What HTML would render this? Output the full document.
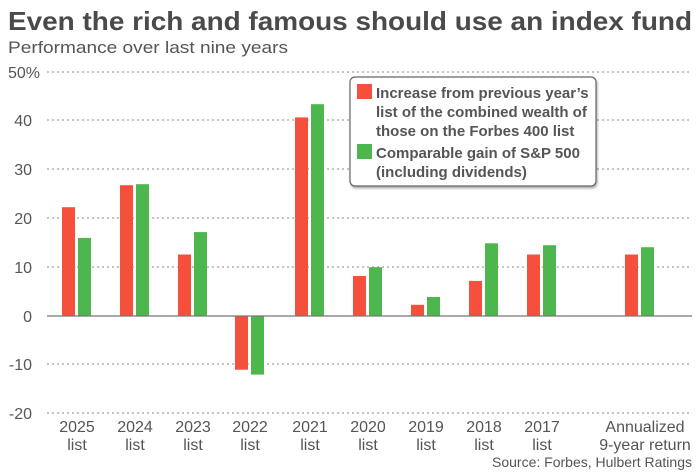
<!DOCTYPE html>
<html><head><style>
body{margin:0;background:#fff;}
svg text{font-family:"Liberation Sans",sans-serif;fill:#555;}
</style></head><body>
<svg width="700" height="471" xmlns="http://www.w3.org/2000/svg">
<text x="8" y="30" font-size="26" font-weight="bold" style="fill:#4a4a4a" textLength="684" lengthAdjust="spacingAndGlyphs">Even the rich and famous should use an index fund</text>
<text x="8" y="53" font-size="17" textLength="280" lengthAdjust="spacingAndGlyphs">Performance over last nine years</text>
<g stroke="#888" stroke-dasharray="2,3" stroke-width="1">
<line x1="47" x2="692" y1="72" y2="72"/><line x1="47" x2="692" y1="120" y2="120"/>
<line x1="47" x2="692" y1="169" y2="169"/><line x1="47" x2="692" y1="218" y2="218"/>
<line x1="47" x2="692" y1="267" y2="267"/><line x1="47" x2="692" y1="364" y2="364"/>
<line x1="47" x2="692" y1="413" y2="413"/></g>
<g font-size="16" text-anchor="end">
<text x="40" y="78">50%</text><text x="32" y="126">40</text><text x="32" y="175">30</text>
<text x="32" y="224">20</text><text x="32" y="273">10</text><text x="32" y="322">0</text>
<text x="32" y="370">-10</text><text x="32" y="419">-20</text></g>
<g fill="#f5503b">
<rect x="62" y="207.2" width="13" height="108.8"/>
<rect x="120" y="185.2" width="13" height="130.8"/>
<rect x="178" y="254.5" width="13" height="61.5"/>
<rect x="235" y="316" width="13" height="53.7"/>
<rect x="295" y="117.4" width="13" height="198.6"/>
<rect x="353" y="276" width="13" height="40"/>
<rect x="411" y="304.8" width="13" height="11.2"/>
<rect x="469" y="280.9" width="13" height="35.1"/>
<rect x="527" y="254.5" width="13" height="61.5"/>
<rect x="625" y="254.5" width="13" height="61.5"/>
</g>
<g fill="#4db74d">
<rect x="78" y="237.9" width="13" height="78.1"/>
<rect x="136" y="184.2" width="13" height="131.8"/>
<rect x="194" y="232.1" width="13" height="83.9"/>
<rect x="251" y="316" width="13" height="58.6"/>
<rect x="311" y="104.2" width="13" height="211.8"/>
<rect x="369" y="267.2" width="13" height="48.8"/>
<rect x="427" y="297" width="13" height="19"/>
<rect x="485" y="243.3" width="13" height="72.7"/>
<rect x="543" y="245.2" width="13" height="70.8"/>
<rect x="641" y="247.2" width="13" height="68.8"/>
</g>
<line x1="47" x2="692" y1="316" y2="316" stroke="#777" stroke-width="1.2"/>
<rect x="350" y="77" width="246" height="109" rx="5" fill="#fff" stroke="#666" stroke-width="1.2" style="filter:drop-shadow(1px 2px 1px rgba(0,0,0,.3))"/>
<rect x="357" y="84" width="15" height="15" fill="#f5503b"/>
<rect x="357" y="144" width="15" height="15" fill="#4db74d"/>
<g font-size="15" font-weight="bold">
<text x="376" y="98">Increase from previous year’s</text>
<text x="376" y="117">list of the combined wealth of</text>
<text x="376" y="136">those on the Forbes 400 list</text>
<text x="376" y="158">Comparable gain of S&amp;P 500</text>
<text x="376" y="177">(including dividends)</text></g>
<g font-size="16" text-anchor="middle">
<text x="77" y="432">2025</text><text x="77" y="450">list</text>
<text x="135" y="432">2024</text><text x="135" y="450">list</text>
<text x="193" y="432">2023</text><text x="193" y="450">list</text>
<text x="250" y="432">2022</text><text x="250" y="450">list</text>
<text x="310" y="432">2021</text><text x="310" y="450">list</text>
<text x="368" y="432">2020</text><text x="368" y="450">list</text>
<text x="426" y="432">2019</text><text x="426" y="450">list</text>
<text x="484" y="432">2018</text><text x="484" y="450">list</text>
<text x="542" y="432">2017</text><text x="542" y="450">list</text>
<text x="645" y="432">Annualized</text><text x="645" y="450">9-year return</text>
</g>
<text x="692" y="467" font-size="14" text-anchor="end">Source: Forbes, Hulbert Ratings</text>
</svg>
</body></html>
